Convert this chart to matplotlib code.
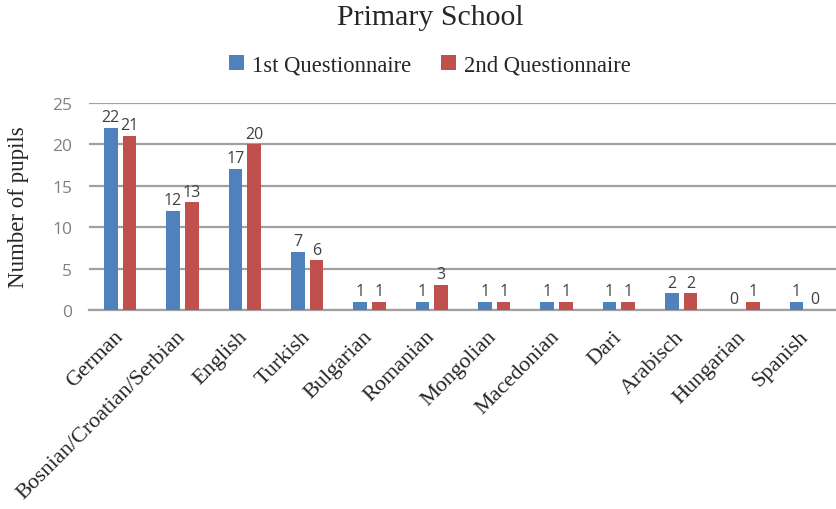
import matplotlib
matplotlib.use("Agg")
import matplotlib.pyplot as plt
import numpy as np

categories = ["German", "Bosnian/Croatian/Serbian", "English", "Turkish", "Bulgarian",
              "Romanian", "Mongolian", "Macedonian", "Dari", "Arabisch", "Hungarian", "Spanish"]
first_q = [22, 12, 17, 7, 1, 1, 1, 1, 1, 2, 0, 1]
second_q = [21, 13, 20, 6, 1, 3, 1, 1, 1, 2, 1, 0]
series_names = ["1st Questionnaire", "2nd Questionnaire"]
yticks = [0, 5, 10, 15, 20, 25]

blue = "#4F81BD"
red = "#C0504D"
serif = ["Liberation Serif", "DejaVu Serif"]
sans = ["Open Sans", "DejaVu Sans"]

W, H = 836, 510
fig = plt.figure(figsize=(W/100, H/100), dpi=100)
left, right, top, bottom = 89, 837, 104, 311
ax = fig.add_axes([left/W, 1 - bottom/H, (right-left)/W, (bottom-top)/H])

x = np.arange(len(categories))
w = 0.22
off = 0.152
b1 = ax.bar(x - off, first_q, width=w, color=blue, label=series_names[0], zorder=3)
b2 = ax.bar(x + off, second_q, width=w, color=red, label=series_names[1], zorder=3)

for bars in (b1, b2):
    ax.bar_label(bars, padding=2, fontsize=11.5, color="#404040", family=sans)

ax.set_xlim(-0.5, len(categories) - 0.5)
ax.set_ylim(0, 25)
ax.set_yticks(yticks)
ax.set_yticklabels([str(t) for t in yticks], fontsize=12.5, color="#808080", family=sans)
ax.yaxis.grid(True, color="#A0A0A0", linewidth=1.6, zorder=0)
ax.set_axisbelow(True)
for s in ["top", "right", "left"]:
    ax.spines[s].set_visible(False)
ax.spines["bottom"].set_color("#A0A0A0")
ax.spines["bottom"].set_linewidth(1.6)
ax.tick_params(axis="y", length=0, pad=12)
ax.tick_params(axis="x", length=0, pad=17)

ax.set_xticks(x)
ax.set_xticklabels(categories, rotation=45, ha="right", va="center", rotation_mode="anchor",
                   fontsize=16, family=serif, color="#262626")

fig.text(19/W, 1 - 207/H, "Number of pupils", rotation=90, ha="center", va="center",
         fontsize=16.5, family=serif, color="#262626")

fig.text(430/W, 1 - 18/H, "Primary School", ha="center", va="center",
         fontsize=21.5, family=serif, color="#262626")
leg = fig.legend(handles=[b1, b2], labels=series_names, loc="center",
                 bbox_to_anchor=(430/W, 1 - 66/H), ncol=2, frameon=False,
                 prop={"family": serif, "size": 16.3}, handlelength=0.65, handleheight=0.65,
                 handletextpad=0.35, columnspacing=1.35, labelcolor="#262626")

fig.savefig("out.png", dpi=100)
